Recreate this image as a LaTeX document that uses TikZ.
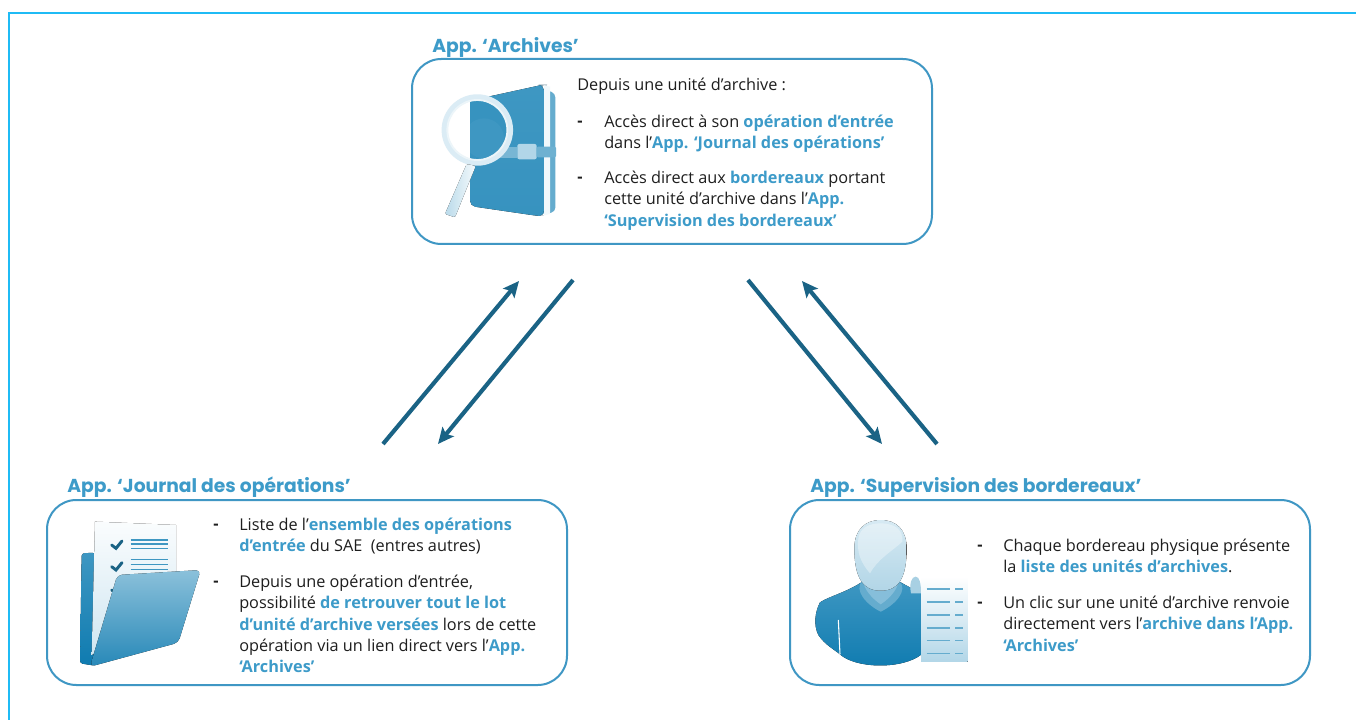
\documentclass[tikz,border=0pt]{standalone}
\usepackage{fontspec}
\setmainfont{Open Sans}
\newfontfamily\titlefont{Poppins}
\usetikzlibrary{arrows.meta}
\definecolor{frameC}{HTML}{1FBBF5}
\definecolor{boxC}{HTML}{3F97C4}
\definecolor{hlC}{HTML}{3D9BC9}
\definecolor{arrC}{HTML}{1A6385}
\definecolor{inkC}{HTML}{1E1E1E}
\definecolor{deepC}{HTML}{0F7BB0}
\definecolor{midC}{HTML}{3E97C2}
\definecolor{paleC}{HTML}{CFE6F1}
\newcommand{\hl}[1]{\textcolor{hlC}{\bfseries #1}}
\tikzset{
  panel/.style={draw=boxC,line width=1.5pt,rounded corners=22pt,fill=white,minimum width=390pt,minimum height=138.75pt,anchor=north west,inner sep=0pt,outer sep=0pt},
  paneltitle/.style={anchor=base west,inner sep=0pt,text=hlC,font=\titlefont\bfseries\fontsize{14.05pt}{16pt}\selectfont},
  bodytext/.style={anchor=north west,inner sep=0pt,align=left,text=inkC,font=\fontsize{12.2pt}{15.9pt}\selectfont,execute at begin node={\strut}},
  dashmark/.style={anchor=north west,inner sep=0pt,text=inkC,font=\bfseries\fontsize{12.2pt}{15.9pt}\selectfont,execute at begin node={\strut}},
  link/.style={draw=arrC,line width=3.1pt,-{Stealth[length=12pt,width=11pt,inset=2.5pt]}},
}
\begin{document}
\begin{tikzpicture}[x=0.75pt,y=-0.75pt]
\useasboundingbox (0,0) rectangle (1356,720);
\fill[white] (0,0) rectangle (1356,720);
\draw[frameC,line width=1.8pt] (9,720) -- (9,13) -- (1356,13);

% panels
\node[panel] (archives) at (412,59) {};
\node[panel] (journal) at (47,500) {};
\node[panel] (superv) at (790,500) {};

% titles
\node[paneltitle] (tA) at (432,53) {App. ‘Archives’};
\node[paneltitle] (tJ) at (67,492) {App. ‘Journal des opérations’};
\node[paneltitle] (tS) at (810,492) {App. ‘Supervision des bordereaux’};

% archives text
\node[bodytext] (a0) at (577,75) {Depuis une unité d’archive :};
\node[dashmark] (a1d) at (577,111) {-};
\node[bodytext] (a1) at (604,115) {Accès direct à son \hl{opération d’entrée}\\dans l’\hl{App. ‘Journal des opérations’}};
\node[dashmark] (a2d) at (577,167) {-};
\node[bodytext] (a2) at (604,171) {Accès direct aux \hl{bordereaux} portant\\cette unité d’archive dans l’\hl{App.}\\\hl{‘Supervision des bordereaux’}};

% journal text
\node[dashmark] (j1d) at (213,514) {-};
\node[bodytext] (j1) at (239,518) {Liste de l’\hl{ensemble des opérations}\\\hl{d’entrée} du SAE\ \ (entres autres)};
\node[dashmark] (j2d) at (213,571) {-};
\node[bodytext] (j2) at (239,575) {Depuis une opération d’entrée,\\possibilité \hl{de retrouver tout le lot}\\\hl{d’unité d’archive versées} lors de cette\\opération via un lien direct vers l’\hl{App.}\\\hl{‘Archives’}};

% supervision text
\node[dashmark] (s1d) at (977,535) {-};
\node[bodytext] (s1) at (1003,539) {Chaque bordereau physique présente\\la \hl{liste des unités d’archives}.};
\node[dashmark] (s2d) at (977,592) {-};
\node[bodytext] (s2) at (1003,596) {Un clic sur une unité d’archive renvoie\\directement vers l’\hl{archive dans l’App.}\\\hl{‘Archives’}};

% connectors
\coordinate (c1s) at (383,444); \coordinate (c1e) at (519,281);
\coordinate (c2s) at (573,280); \coordinate (c2e) at (438,444);
\coordinate (c3s) at (748,280); \coordinate (c3e) at (882,444);
\coordinate (c4s) at (937,444); \coordinate (c4e) at (802,281);
\draw[link] (c1s) -- (c1e);
\draw[link] (c2s) -- (c2e);
\draw[link] (c3s) -- (c3e);
\draw[link] (c4s) -- (c4e);

% icon: book and magnifier
\begin{scope}[shift={(410,30)},x=0.25pt,y=-0.25pt]
  \fill[rounded corners=3pt,midC!80!white] (395,175) -- (436,190) -- (436,545) -- (395,555) -- cycle;
  \fill[rounded corners=4pt,top color=midC,bottom color=midC!85!deepC] (180,212) -- (395,165) -- (402,165) -- (402,558) -- (385,558) -- (180,528) -- cycle;
  \fill[white!70!paleC] (402,166) -- (420,170) -- (420,552) -- (402,556) -- cycle;
  \fill[midC!70!white] (180,352) rectangle (322,384);
  \fill[paleC!80!midC,rounded corners=1.5pt] (322,342) rectangle (380,388);
  \fill[midC!75!white,rounded corners=1pt] (380,350) rectangle (438,382);
  \begin{scope}
    \clip (180,190) rectangle (310,410);
    \fill[midC!85!deepC] (202,300) circle[radius=92];
    \fill[midC] (222,325) circle[radius=60];
  \end{scope}
  \draw[paleC!75!white,line width=4.6pt] (202,300) circle[radius=98];
  \draw[white!60!paleC,line width=1.4pt] (202,300) circle[radius=90];
  \fill[left color=paleC!85!midC,right color=white!80!paleC,rounded corners=1pt] (170,402) -- (197,408) -- (135,562) -- (105,552) -- cycle;
\end{scope}

% icon: folder
\begin{scope}[shift={(40,470)},x=0.25pt,y=-0.25pt]
  \fill[rounded corners=2pt,top color=midC,bottom color=deepC] (125,250) -- (165,248) -- (165,587) -- (120,580) -- cycle;
  \fill[top color=white!90!paleC,bottom color=paleC] (165,155) -- (408,165) -- (408,400) -- (155,555) -- cycle;
  \foreach \yy in {225,290,360}{
    \draw[arrC,line width=2.2pt,line cap=round] (215,\yy) -- (228,\yy+10) -- (246,\yy-12);
  }
  \foreach \yy in {210,222,236,268,283,298}{
    \draw[midC,line width=1pt] (272,\yy) -- (384,\yy);
  }
  \fill[rounded corners=3.5pt,top color=midC!60!white,bottom color=deepC!90!white] (232,315) -- (482,300) -- (415,518) -- (150,590) -- cycle;
\end{scope}

% icon: person and list
\begin{scope}[shift={(785,495)},x=0.25pt,y=-0.25pt]
  \fill[top color=midC,bottom color=deepC] (235,258) .. controls (190,290) and (130,305) .. (105,322) .. controls (90,350) and (85,390) .. (100,420) .. controls (120,450) and (150,465) .. (165,478) .. controls (210,520) and (350,525) .. (410,478) -- (410,295) .. controls (390,285) and (360,270) .. (340,258) -- cycle;
  \draw[white,line width=0.8pt] (160,375) -- (165,478);
  \fill[midC!80!white] (232,258) -- (342,258) .. controls (372,285) and (330,330) .. (287,350) .. controls (245,330) and (205,285) .. (232,258) -- cycle;
  \fill[paleC!50!midC] (235,258) -- (340,258) .. controls (340,280) and (315,310) .. (287,328) .. controls (260,310) and (235,280) .. (235,258) -- cycle;
  \fill[top color=paleC!85!white,bottom color=midC!40!white] (287,75) .. controls (335,75) and (365,105) .. (365,160) .. controls (365,250) and (340,287) .. (287,287) .. controls (235,287) and (208,250) .. (208,160) .. controls (208,105) and (240,75) .. (287,75) -- cycle;
  \fill[white,opacity=0.35] (287,85) .. controls (330,85) and (355,105) .. (352,140) .. controls (320,170) and (280,190) .. (255,235) .. controls (225,200) and (215,170) .. (220,130) .. controls (225,100) and (250,85) .. (287,85) -- cycle;
  \fill[midC!45!white] (378,295) .. controls (372,265) and (380,245) .. (392,245) .. controls (404,245) and (408,265) .. (408,295) -- cycle;
  \fill[top color=white,bottom color=paleC!80!midC] (408,245) rectangle (548,500);
  \foreach \yy in {282,321,360,399,437,475}{
    \draw[midC!80!white,line width=1pt] (425,\yy) -- (494,\yy);
    \draw[midC!80!white,line width=1pt] (511,\yy) -- (535,\yy);
  }
\end{scope}
\end{tikzpicture}
\end{document}
